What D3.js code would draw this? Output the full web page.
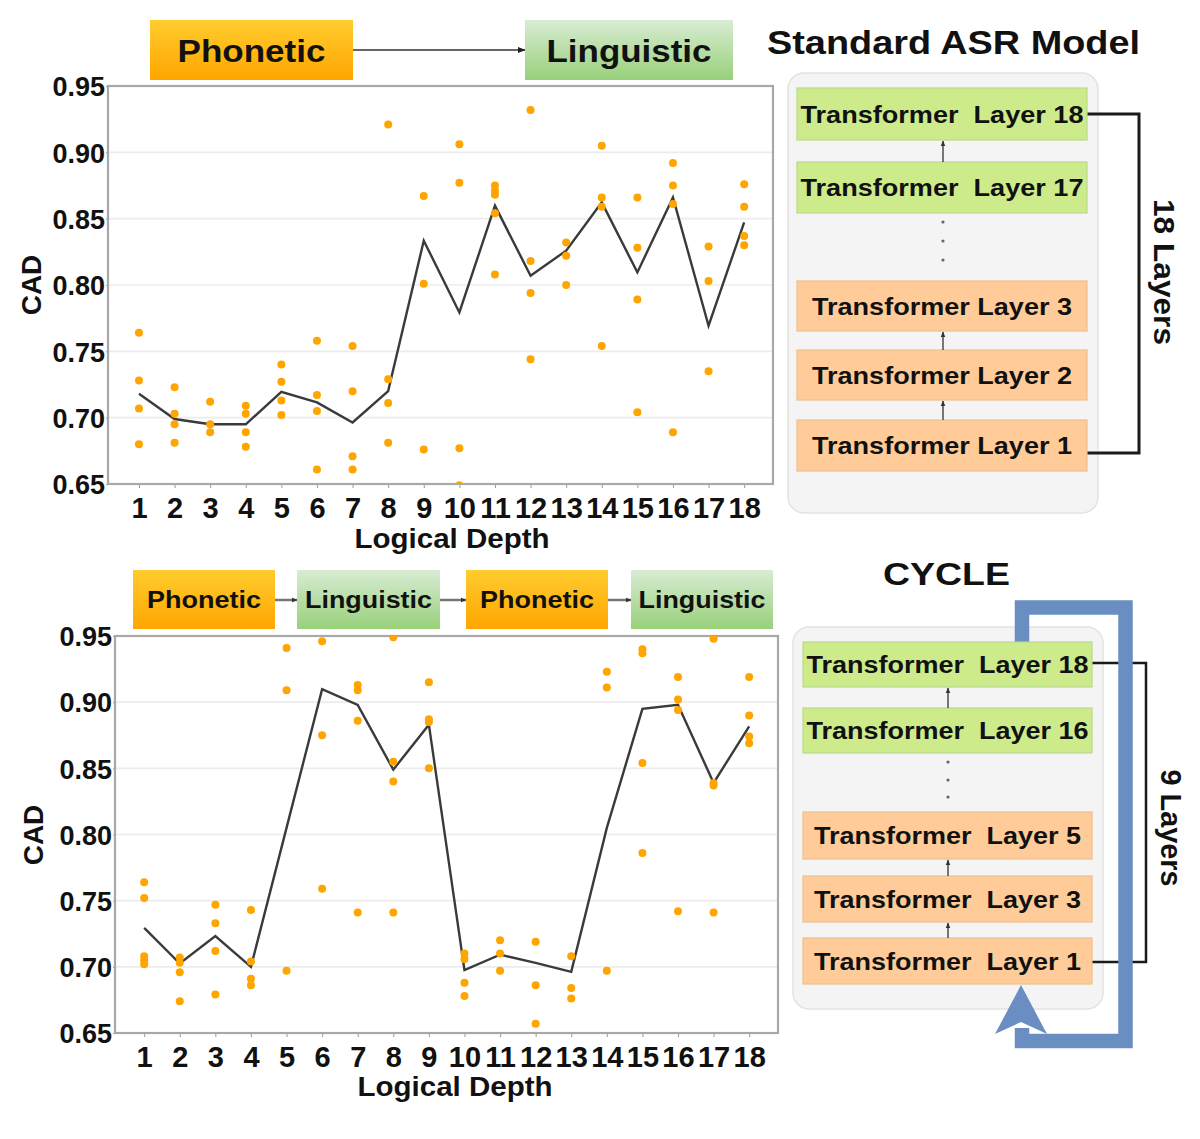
<!DOCTYPE html>
<html><head><meta charset="utf-8">
<script src="https://cdn.jsdelivr.net/npm/d3@7/dist/d3.min.js"></script>
<style>
html,body{margin:0;padding:0;background:#fff;}
svg text{font-family:"Liberation Sans",Arial,Helvetica,sans-serif;font-weight:bold;fill:#111;white-space:pre;}
</style></head>
<body>
<svg id="fig" width="1200" height="1139"></svg>
<script>
// ---------------- DATA ----------------
const depths = [1,2,3,4,5,6,7,8,9,10,11,12,13,14,15,16,17,18];
const yTicks = [0.65,0.70,0.75,0.80,0.85,0.90,0.95];

// Standard ASR model: mean CAD per logical depth
const stdMean = [0.718,0.699,0.695,0.695,0.7195,0.7115,0.6964,0.720,0.8334,0.7793,0.8598,0.807,0.8259,0.8623,0.8095,0.866,0.7693,0.8472];
// Standard ASR model: individual CAD points per depth
const stdPoints = [
  [0.764,0.728,0.707,0.680],
  [0.723,0.703,0.695,0.681],
  [0.712,0.695,0.689],
  [0.709,0.703,0.689,0.678],
  [0.740,0.727,0.713,0.702],
  [0.758,0.717,0.705,0.661],
  [0.754,0.720,0.671,0.661],
  [0.921,0.729,0.711,0.681],
  [0.867,0.801,0.676],
  [0.906,0.877,0.677,0.649],
  [0.875,0.871,0.868,0.854,0.808],
  [0.932,0.818,0.794,0.744],
  [0.832,0.822,0.800],
  [0.905,0.866,0.859,0.754],
  [0.866,0.828,0.789,0.704],
  [0.892,0.875,0.861,0.689],
  [0.829,0.803,0.735],
  [0.876,0.859,0.837,0.830]
];

// CYCLE model
const cycMean = [0.7295,0.7025,0.7233,0.700,0.805,0.9098,0.898,0.849,0.883,0.6975,0.7092,0.703,0.6962,0.805,0.895,0.898,0.839,0.8817];
const cycPoints = [
  [0.764,0.752,0.708,0.705,0.702],
  [0.707,0.703,0.696,0.674],
  [0.747,0.733,0.712,0.679],
  [0.743,0.704,0.691,0.686],
  [0.941,0.909,0.697],
  [0.946,0.875,0.759],
  [0.913,0.909,0.886,0.741],
  [0.949,0.855,0.840,0.741],
  [0.915,0.887,0.885,0.850],
  [0.710,0.706,0.688,0.678],
  [0.720,0.710,0.697],
  [0.719,0.686,0.657],
  [0.708,0.684,0.676],
  [0.923,0.911,0.697],
  [0.940,0.937,0.854,0.786],
  [0.919,0.902,0.894,0.742],
  [0.948,0.839,0.837,0.741],
  [0.919,0.890,0.874,0.869]
];

const stdStages = ["Phonetic","Linguistic"];
const cycStages = ["Phonetic","Linguistic","Phonetic","Linguistic"];
const stdLayers = ["Transformer  Layer 18","Transformer  Layer 17","Transformer Layer 3","Transformer Layer 2","Transformer Layer 1"];
const cycLayers = ["Transformer  Layer 18","Transformer  Layer 16","Transformer  Layer 5","Transformer  Layer 3","Transformer  Layer 1"];

// ---------------- DRAW ----------------
const svg = d3.select("#fig");
const defs = svg.append("defs");

const gOr = defs.append("linearGradient").attr("id","gOr").attr("x1",0).attr("y1",0).attr("x2",0).attr("y2",1);
gOr.append("stop").attr("offset","0%").attr("stop-color","#ffcd2e");
gOr.append("stop").attr("offset","100%").attr("stop-color","#ffa500");
const gGr = defs.append("linearGradient").attr("id","gGr").attr("x1",0).attr("y1",0).attr("x2",0).attr("y2",1);
gGr.append("stop").attr("offset","0%").attr("stop-color","#d8ecd3");
gGr.append("stop").attr("offset","100%").attr("stop-color","#98d07a");

function marker(id, color, size){
  defs.append("marker").attr("id",id).attr("viewBox","0 0 10 10").attr("refX",9).attr("refY",5)
    .attr("markerWidth",size).attr("markerHeight",size).attr("orient","auto-start-reverse")
    .attr("markerUnits","userSpaceOnUse")
    .append("path").attr("d","M0,1 L10,5 L0,9 z").attr("fill",color);
}
marker("arrK","#222",8);
marker("arrS","#333",6);

function panel(cfg){
  const x = d3.scaleLinear().domain(cfg.xd).range([cfg.left,cfg.right]);
  const y = d3.scaleLinear().domain([0.65,0.95]).range([cfg.bottom,cfg.top]);
  const g = svg.append("g");
  const cid = "clip"+cfg.id;
  defs.append("clipPath").attr("id",cid).append("rect")
    .attr("x",cfg.left).attr("y",cfg.top).attr("width",cfg.right-cfg.left).attr("height",cfg.bottom-cfg.top);
  // grid
  g.append("g").selectAll("line").data(yTicks.slice(1,-1)).join("line")
    .attr("x1",cfg.left).attr("x2",cfg.right).attr("y1",d=>y(d)).attr("y2",d=>y(d))
    .attr("stroke","#ececec").attr("stroke-width",1.6);
  // axes
  const ax = g.append("g").attr("transform",`translate(0,${cfg.bottom})`)
    .call(d3.axisBottom(x).tickValues(depths).tickSize(4).tickPadding(9).tickFormat(d3.format("d")));
  ax.select(".domain").remove();
  ax.selectAll("line").attr("stroke","#999");
  ax.selectAll("text").attr("font-size",29).attr("fill","#111");
  const ay = g.append("g").attr("transform",`translate(${cfg.left},0)`)
    .call(d3.axisLeft(y).tickValues(yTicks).tickSize(2).tickPadding(1).tickFormat(d3.format(".2f")));
  ay.select(".domain").remove();
  ay.selectAll("line").attr("stroke","#999");
  ay.selectAll("text").attr("font-size",27).attr("fill","#111").attr("dy","0.36em");
  // frame
  g.append("rect").attr("x",cfg.left).attr("y",cfg.top).attr("width",cfg.right-cfg.left).attr("height",cfg.bottom-cfg.top)
    .attr("fill","none").attr("stroke","#a8a8a8").attr("stroke-width",2.2);
  // line
  const data = depths.map((d,i)=>({d,v:cfg.mean[i]}));
  g.append("path").datum(data).attr("clip-path",`url(#${cid})`)
    .attr("d",d3.line().x(p=>x(p.d)).y(p=>y(p.v)))
    .attr("fill","none").attr("stroke","#3a3a3a").attr("stroke-width",2.4).attr("stroke-linejoin","miter");
  // points
  const pts = [];
  cfg.points.forEach((arr,i)=>arr.forEach(v=>pts.push({d:depths[i],v})));
  g.append("g").attr("clip-path",`url(#${cid})`).selectAll("circle").data(pts).join("circle")
    .attr("cx",p=>x(p.d)).attr("cy",p=>y(p.v)).attr("r",4).attr("fill","#ffa500");
  // labels
  g.append("text").attr("x",cfg.xlab[0]).attr("y",cfg.xlab[1]).attr("text-anchor","middle")
    .attr("font-size",27).attr("textLength",195).attr("lengthAdjust","spacingAndGlyphs").text("Logical Depth");
  g.append("text").attr("transform",`translate(${cfg.ylab[0]},${cfg.ylab[1]}) rotate(-90)`).attr("text-anchor","middle")
    .attr("font-size",28).attr("dy","0.36em").text("CAD");
}

panel({id:"a",xd:[0.13,18.81],left:108,right:773,top:86,bottom:484,mean:stdMean,points:stdPoints,xlab:[452,548],ylab:[31,285]});
panel({id:"b",xd:[0.18,18.81],left:115,right:778,top:636,bottom:1033,mean:cycMean,points:cycPoints,xlab:[455,1096],ylab:[33,835]});

// ----- stage headers -----
function stageBox(x0,x1,y0,y1,name,fs,tl){
  const fill = name==="Phonetic" ? "url(#gOr)" : "url(#gGr)";
  svg.append("rect").attr("x",x0).attr("y",y0).attr("width",x1-x0).attr("height",y1-y0).attr("fill",fill);
  svg.append("text").attr("x",(x0+x1)/2).attr("y",(y0+y1)/2).attr("dy","0.36em").attr("text-anchor","middle")
    .attr("font-size",fs).attr("textLength",tl).attr("lengthAdjust","spacingAndGlyphs").text(name);
}
// top
const topBoxes = [[150,353],[525,733]];
svg.append("line").attr("x1",353).attr("y1",50).attr("x2",525).attr("y2",50)
  .attr("stroke","#333").attr("stroke-width",1.6).attr("marker-end","url(#arrK)");
stdStages.forEach((s,i)=>stageBox(topBoxes[i][0],topBoxes[i][1],20,80,s,32,s==="Phonetic"?148:165));
// bottom
const botBoxes = [[133,275],[297,440],[466,608],[631,773]];
for(let i=0;i<botBoxes.length-1;i++){
  svg.append("line").attr("x1",botBoxes[i][1]).attr("y1",600).attr("x2",botBoxes[i+1][0]).attr("y2",600)
    .attr("stroke","#777").attr("stroke-width",2.5).attr("marker-end","url(#arrS)");
}
cycStages.forEach((s,i)=>stageBox(botBoxes[i][0],botBoxes[i][1],570,629,s,24,s==="Phonetic"?114:127));

// ----- diagrams -----
svg.append("text").attr("x",767).attr("y",54).attr("font-size",34).attr("textLength",373)
  .attr("lengthAdjust","spacingAndGlyphs").text("Standard ASR Model");
svg.append("text").attr("x",883).attr("y",585).attr("font-size",32).attr("textLength",127)
  .attr("lengthAdjust","spacingAndGlyphs").text("CYCLE");

function diagram(cfg){
  svg.append("rect").attr("x",cfg.cx).attr("y",cfg.cy).attr("width",310).attr("height",cfg.ch).attr("rx",16)
    .attr("fill","#f4f4f4").attr("stroke","#e2e2e2").attr("stroke-width",1.5);
  // bracket
  svg.append("path").attr("d",`M${cfg.bx0},${cfg.by0} H${cfg.bx} V${cfg.by1} H${cfg.bx0}`)
    .attr("fill","none").attr("stroke","#1a1a1a").attr("stroke-width",cfg.bw);
  if(cfg.loop){
    const c = "#6b8ec2";
    svg.append("path").attr("d","M1022,1028 V1041 H1125.5 V607.5 H1022 V650")
      .attr("fill","none").attr("stroke",c).attr("stroke-width",14.5).attr("stroke-linejoin","miter");
    svg.append("path").attr("d","M1021,985 L995,1034 L1021,1022 L1047,1034 Z").attr("fill",c);
  }
  cfg.boxes.forEach((b,i)=>{
    const green = i<2;
    svg.append("rect").attr("x",cfg.lx).attr("y",b[0]).attr("width",cfg.lw).attr("height",b[1]-b[0])
      .attr("fill",green?"#cdeb8b":"#ffcc99").attr("stroke",green?"#b9d98c":"#efbf8f").attr("stroke-width",1.2);
    svg.append("text").attr("x",cfg.lx+cfg.lw/2).attr("y",(b[0]+b[1])/2).attr("dy","0.36em").attr("text-anchor","middle")
      .attr("font-size",24).attr("textLength",cfg.tl[i]).attr("lengthAdjust","spacingAndGlyphs").text(cfg.labels[i]);
  });
  // small arrows between boxes
  [[1,0],[3,2],[4,3]].forEach(([a,b])=>{
    svg.append("line").attr("x1",cfg.ax).attr("x2",cfg.ax).attr("y1",cfg.boxes[a][0]).attr("y2",cfg.boxes[b][1]+1)
      .attr("stroke","#333").attr("stroke-width",1.3).attr("marker-end","url(#arrS)");
  });
  cfg.dots.forEach(yy=>svg.append("circle").attr("cx",cfg.ax).attr("cy",yy).attr("r",1.6).attr("fill","#666"));
  svg.append("text").attr("transform",`translate(${cfg.tx},${cfg.ty}) rotate(90)`).attr("text-anchor","middle")
    .attr("dy","0.36em").attr("font-size",29).attr("textLength",cfg.ttl).attr("lengthAdjust","spacingAndGlyphs").text(cfg.title);
}

diagram({cx:788,cy:73,ch:440,lx:797,lw:290,ax:943,
  boxes:[[88,140],[162,213],[281,331],[350,400],[420,471]],
  labels:stdLayers,tl:[283,283,260,260,260],
  dots:[222,241,260],bx0:1087,bx:1139,by0:114,by1:453,bw:3,
  tx:1164,ty:272,ttl:146,title:"18 Layers",loop:false});
diagram({cx:793,cy:627,ch:382,lx:803,lw:289,ax:948,
  boxes:[[642,687],[708,753],[812,859],[876,922],[938,984]],
  labels:cycLayers,tl:[282,282,267,267,267],
  dots:[762,780,797],bx0:1092,bx:1146,by0:663,by1:962,bw:2.5,
  tx:1171,ty:828,ttl:117,title:"9 Layers",loop:true});
</script>
</body></html>
